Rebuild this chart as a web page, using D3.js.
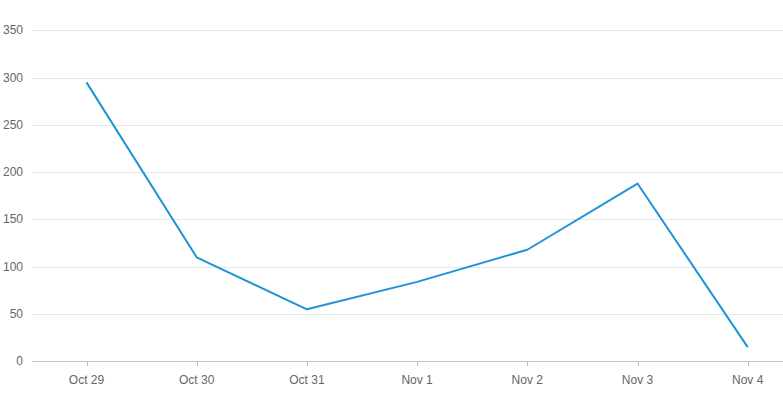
<!DOCTYPE html>
<html><head><meta charset="utf-8">
<script src="https://cdn.jsdelivr.net/npm/d3@7"></script>
<style>
body{margin:0;background:#fff;}
text{font-family:"Liberation Sans",Arial,sans-serif;}
</style></head>
<body><svg id="c" width="783" height="412"></svg>
<script>
const categories = ["Oct 29","Oct 30","Oct 31","Nov 1","Nov 2","Nov 3","Nov 4"];
const values = [295, 110, 55, 84, 118, 188, 15];
const yTicks = [0,50,100,150,200,250,300,350];

const svg = d3.select("#c");
const left = 32, right = 783;
const x = d3.scalePoint().domain(categories).range([86.5, 747.7]);
const y = d3.scaleLinear().domain([0,350]).range([361.3, 30.4]);

// gridlines
svg.append("g").selectAll("line").data(yTicks.filter(d=>d>0)).join("line")
  .attr("x1", left).attr("x2", right)
  .attr("y1", d=>Math.round(y(d))+0.5).attr("y2", d=>Math.round(y(d))+0.5)
  .attr("stroke", "#e6e6e6").attr("stroke-width",1);

// y labels
svg.append("g").selectAll("text").data(yTicks).join("text")
  .attr("x", 23).attr("y", d=>y(d)+4)
  .attr("text-anchor","end").attr("font-size",12).attr("fill","#666")
  .text(d=>d);

// x axis
const xa = svg.append("g").attr("transform", `translate(0,${Math.round(y(0))+0.5})`);
xa.append("line").attr("x1", left).attr("x2", right).attr("stroke","#c0c0c0");
xa.selectAll("line.t").data(categories).join("line").attr("class","t")
  .attr("x1", d=>Math.round(x(d))+0.5).attr("x2", d=>Math.round(x(d))+0.5)
  .attr("y1",0).attr("y2",5).attr("stroke","#c0c0c0");
xa.selectAll("text").data(categories).join("text")
  .attr("x", d=>x(d)).attr("y", 22)
  .attr("text-anchor","middle").attr("font-size",12).attr("fill","#666")
  .text(d=>d);

// line
const line = d3.line().x((d,i)=>x(categories[i])).y(d=>y(d));
svg.append("path").datum(values).attr("d", line)
  .attr("fill","none").attr("stroke","#1f93d8").attr("stroke-width",2)
  .attr("stroke-linejoin","round");
</script></body></html>
